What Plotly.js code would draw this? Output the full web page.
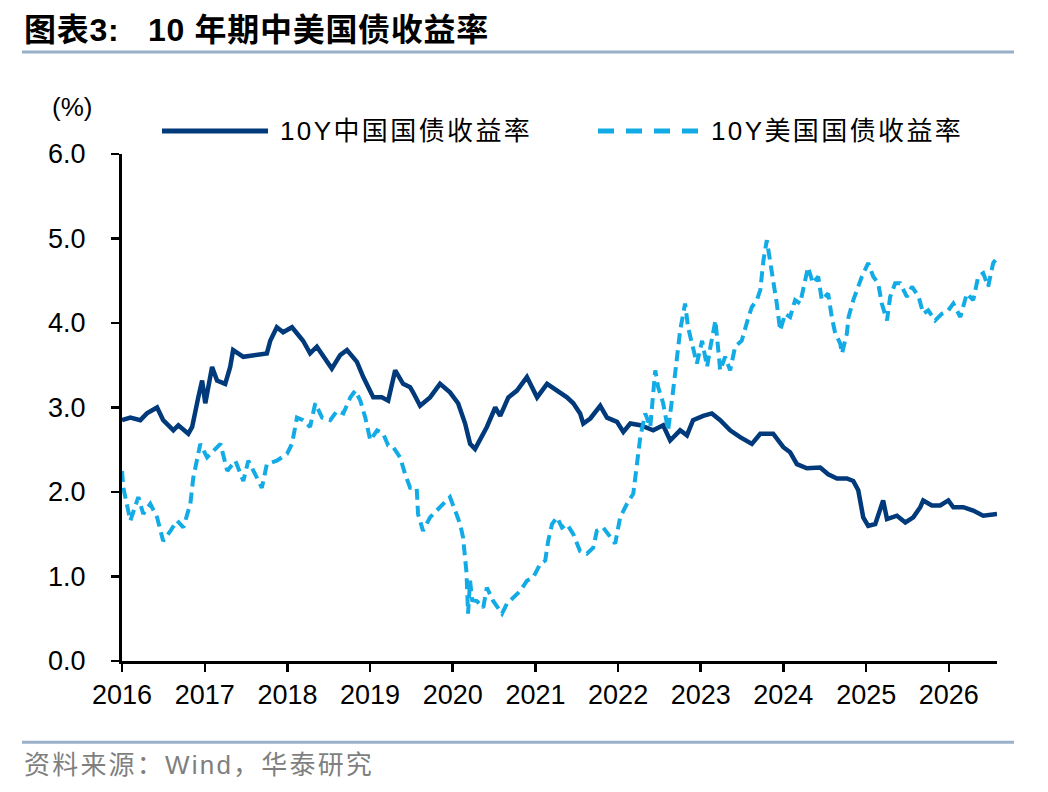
<!DOCTYPE html>
<html>
<head>
<meta charset="utf-8">
<script src="https://cdn.plot.ly/plotly-3.0.1.min.js"></script>
<style>
  html, body { margin: 0; padding: 0; background: #fff; }
  #chart { width: 1048px; height: 792px; }
</style>
</head>
<body>
<div id="chart"></div>
<script>
// 10Y China government bond yield (%)
var cnDates = [
  '2016-01-01','2016-02-07','2016-03-22','2016-04-20','2016-06-04','2016-07-01','2016-08-15','2016-09-06','2016-10-20','2016-11-06','2016-12-03','2016-12-20',
  '2017-01-03','2017-02-02','2017-02-24','2017-04-01','2017-04-23','2017-05-06','2017-06-20','2017-08-03','2017-10-02','2017-10-17','2017-11-15','2017-12-13',
  '2018-01-21','2018-03-11','2018-04-11','2018-05-11','2018-06-08','2018-07-16','2018-08-22','2018-09-21','2018-11-04','2018-12-02',
  '2019-01-15','2019-02-22','2019-03-22','2019-04-22','2019-05-27','2019-06-27','2019-07-10','2019-08-10','2019-09-23','2019-11-06','2019-12-20',
  '2020-01-25','2020-02-25','2020-03-18','2020-04-09','2020-05-01','2020-05-31','2020-07-07','2020-07-29','2020-09-03','2020-10-11','2020-11-24',
  '2021-01-08','2021-02-21','2021-04-06','2021-05-20','2021-06-17','2021-07-17','2021-07-31','2021-08-31','2021-10-14','2021-11-13','2021-12-27',
  '2022-01-24','2022-02-24','2022-04-09','2022-06-05','2022-07-19','2022-08-19','2022-10-02','2022-11-01','2022-11-28',
  '2023-01-12','2023-02-19','2023-03-28','2023-05-11','2023-06-24','2023-08-15','2023-09-21','2023-11-17',
  '2024-01-01','2024-01-31','2024-03-01','2024-04-14','2024-06-12','2024-07-17','2024-08-25','2024-10-08','2024-11-05','2024-11-27','2024-12-19',
  '2025-01-10','2025-02-10','2025-03-04','2025-03-17','2025-04-03','2025-05-17','2025-06-23','2025-07-28','2025-08-28','2025-09-10','2025-10-18','2025-11-24','2025-12-30',
  '2026-01-21','2026-03-06','2026-04-19','2026-06-02','2026-08-02'
];
var cnYield = [
  2.85,2.88,2.85,2.93,3.00,2.85,2.73,2.79,2.69,2.77,3.12,3.32,
  3.05,3.48,3.32,3.28,3.48,3.68,3.60,3.62,3.64,3.79,3.95,3.89,
  3.95,3.79,3.64,3.72,3.60,3.46,3.62,3.68,3.54,3.36,
  3.12,3.12,3.08,3.44,3.28,3.24,3.18,3.02,3.12,3.28,3.18,
  3.05,2.81,2.57,2.51,2.61,2.77,3.00,2.90,3.12,3.20,3.36,
  3.12,3.28,3.20,3.12,3.05,2.93,2.81,2.87,3.02,2.88,2.83,
  2.71,2.81,2.79,2.73,2.79,2.61,2.73,2.67,2.85,
  2.90,2.93,2.85,2.73,2.65,2.57,2.69,2.69,
  2.53,2.47,2.33,2.28,2.29,2.21,2.16,2.16,2.13,2.02,1.70,
  1.60,1.62,1.78,1.90,1.68,1.72,1.64,1.70,1.82,1.90,1.84,1.84,1.90,
  1.82,1.82,1.78,1.72,1.74
];

// 10Y US Treasury yield (%)
var usDates = [
  '2016-01-01','2016-01-07','2016-02-07','2016-03-13','2016-04-04','2016-05-05','2016-06-04','2016-07-01','2016-08-02','2016-08-31','2016-09-28','2016-10-29','2016-11-11','2016-11-27','2016-12-12',
  '2017-01-11','2017-02-08','2017-03-11','2017-04-10','2017-05-16','2017-06-20','2017-07-12','2017-08-19','2017-09-10','2017-10-02','2017-11-15','2017-12-30',
  '2018-01-21','2018-02-12','2018-03-11','2018-04-11','2018-05-04','2018-06-03','2018-07-09','2018-08-08','2018-09-05','2018-10-06','2018-10-28','2018-11-19','2018-12-11',
  '2019-01-02','2019-02-01','2019-02-28','2019-03-22','2019-04-13','2019-05-14','2019-06-05','2019-06-27','2019-07-26','2019-08-01','2019-08-23','2019-09-23','2019-10-22','2019-11-19','2019-12-20',
  '2020-01-12','2020-02-03','2020-02-16','2020-03-02','2020-03-09','2020-03-18','2020-03-27','2020-04-17','2020-05-15','2020-05-31','2020-06-28','2020-08-06','2020-08-28','2020-09-25','2020-10-26','2020-11-24','2020-12-22',
  '2021-01-22','2021-02-13','2021-02-26','2021-03-15','2021-04-06','2021-04-28','2021-05-20','2021-06-17','2021-07-17','2021-08-16','2021-09-13','2021-09-29','2021-10-27','2021-11-27','2021-12-19',
  '2022-01-10','2022-02-09','2022-03-09','2022-03-25','2022-04-09','2022-05-01','2022-05-23','2022-06-14','2022-06-27','2022-07-19','2022-08-10','2022-09-01','2022-09-18','2022-10-02','2022-10-24','2022-11-06','2022-11-23','2022-12-15',
  '2023-01-07','2023-01-29','2023-02-13','2023-03-07','2023-03-28','2023-04-19','2023-05-11','2023-06-02','2023-07-01','2023-07-16','2023-07-31','2023-08-15','2023-09-06','2023-09-21','2023-10-05','2023-10-20','2023-11-04','2023-11-17','2023-12-03','2023-12-18',
  '2024-01-09','2024-01-31','2024-02-22','2024-03-15','2024-04-06','2024-04-19','2024-05-11','2024-06-03','2024-06-19','2024-07-17','2024-08-02','2024-08-17','2024-09-08','2024-09-16','2024-10-08','2024-10-15','2024-11-05','2024-11-27','2024-12-13',
  '2025-01-10','2025-02-01','2025-02-23','2025-03-11','2025-04-03','2025-04-17','2025-05-09','2025-05-31','2025-06-30','2025-07-22','2025-08-21','2025-09-10','2025-10-02','2025-11-02','2025-12-02','2025-12-30',
  '2026-01-21','2026-02-21','2026-03-22','2026-04-19','2026-05-11','2026-06-02','2026-06-24','2026-07-16','2026-08-02'
];
var usYield = [
  2.25,2.05,1.66,1.94,1.74,1.86,1.70,1.42,1.54,1.66,1.58,1.86,2.17,2.37,2.57,
  2.41,2.49,2.57,2.25,2.37,2.13,2.37,2.17,2.05,2.33,2.37,2.45,
  2.57,2.88,2.85,2.77,3.05,2.88,2.85,2.96,2.93,3.12,3.20,3.08,2.88,
  2.61,2.73,2.69,2.55,2.53,2.41,2.21,2.05,2.05,1.74,1.54,1.70,1.78,1.86,1.94,
  1.78,1.62,1.46,1.05,0.56,0.95,0.72,0.71,0.63,0.87,0.71,0.56,0.68,0.75,0.83,0.95,0.99,
  1.15,1.19,1.42,1.62,1.70,1.58,1.62,1.50,1.30,1.27,1.34,1.54,1.58,1.46,1.39,
  1.70,1.86,1.98,2.33,2.65,2.93,2.77,3.44,3.24,3.05,2.73,3.20,3.60,3.91,4.23,3.95,3.76,3.52,
  3.79,3.48,3.72,4.03,3.44,3.60,3.44,3.72,3.79,3.95,4.07,4.19,4.27,4.39,4.74,4.98,4.71,4.55,4.23,3.91,
  4.11,4.07,4.27,4.23,4.47,4.66,4.47,4.55,4.27,4.35,4.07,3.88,3.76,3.64,3.88,4.07,4.27,4.43,4.55,
  4.71,4.55,4.47,4.23,4.03,4.31,4.47,4.47,4.31,4.43,4.31,4.11,4.15,4.03,4.11,4.15,
  4.23,4.07,4.35,4.27,4.55,4.59,4.43,4.71,4.77
];

var seriesNames = ['10Y中国国债收益率', '10Y美国国债收益率'];
var cnColor = '#003A7A';
var usColor = '#12ABE6';
var fontFam = 'Liberation Sans, Arial, Noto Sans CJK SC, sans-serif';

function spaced(txt, px) {
  return '<span style="letter-spacing:' + px + 'px">' + txt + '</span>';
}

var traces = [
  {
    x: cnDates, y: cnYield, name: seriesNames[0],
    type: 'scatter', mode: 'lines',
    line: { color: cnColor, width: 4.5 }
  },
  {
    x: usDates, y: usYield, name: seriesNames[1],
    type: 'scatter', mode: 'lines',
    line: { color: usColor, width: 4, dash: '11px,6px' }
  }
];

// plot area spans 122..997 px horizontally, 154..661 px vertically
var layout = {
  width: 1048,
  height: 792,
  margin: { l: 122, r: 51, t: 154, b: 131 },
  paper_bgcolor: '#fff',
  plot_bgcolor: '#fff',
  showlegend: false,
  font: { family: fontFam, size: 27, color: '#000' },
  xaxis: {
    type: 'date',
    range: ['2016-01-01', '2026-08-02'],
    tick0: '2016-01-01',
    dtick: 'M12',
    tickformat: '%Y',
    showgrid: false,
    zeroline: false,
    showline: true, linecolor: '#000', linewidth: 3,
    ticks: 'outside', ticklen: 8, tickwidth: 2.5, tickcolor: '#000',
    tickfont: { family: fontFam, size: 27, color: '#000' }
  },
  yaxis: {
    range: [0, 6],
    dtick: 1,
    tickformat: '.1f',
    showgrid: false,
    zeroline: false,
    showline: true, linecolor: '#000', linewidth: 3,
    ticks: 'outside', ticklen: 8, tickwidth: 2.5, tickcolor: '#000',
    ticklabelstandoff: 20,
    tickfont: { family: fontFam, size: 27, color: '#000' }
  },
  shapes: [
    // rule under the title
    { type: 'line', xref: 'paper', yref: 'paper', x0: -0.1143, x1: 1.0194, y0: 1.2013, y1: 1.2013,
      line: { color: '#9AB0C9', width: 3 } },
    // rule above the source line
    { type: 'line', xref: 'paper', yref: 'paper', x0: -0.1143, x1: 1.0194, y0: -0.1605, y1: -0.1605,
      line: { color: '#9AB0C9', width: 3 } },
    // legend samples
    { type: 'line', xref: 'paper', yref: 'paper', x0: 0.0457, x1: 0.1669, y0: 1.0454, y1: 1.0454,
      line: { color: cnColor, width: 5 } },
    { type: 'line', xref: 'paper', yref: 'paper', x0: 0.544, x1: 0.6606, y0: 1.0454, y1: 1.0454,
      line: { color: usColor, width: 5, dash: '16px,12px' } }
  ],
  annotations: [
    { xref: 'paper', yref: 'paper', x: -0.1143, y: 1.2447, xanchor: 'left', yanchor: 'middle', showarrow: false,
      text: '<b>' + spaced('图表3:\u00a0\u00a0 10 年期中美国债收益率', 0.7) + '</b>',
      font: { family: 'Liberation Sans, Noto Sans CJK SC, sans-serif', size: 32, color: '#000' } },
    { xref: 'paper', yref: 'paper', x: -0.057, y: 1.0926, xanchor: 'center', yanchor: 'middle', showarrow: false,
      text: '(%)', font: { family: fontFam, size: 26, color: '#000' } },
    { xref: 'paper', yref: 'paper', x: 0.1783, y: 1.0454, xanchor: 'left', yanchor: 'middle', showarrow: false,
      text: spaced(seriesNames[0], 2.4), font: { family: fontFam, size: 26, color: '#000' } },
    { xref: 'paper', yref: 'paper', x: 0.6709, y: 1.0454, xanchor: 'left', yanchor: 'middle', showarrow: false,
      text: spaced(seriesNames[1], 2.4), font: { family: fontFam, size: 26, color: '#000' } },
    { xref: 'paper', yref: 'paper', x: -0.1143, y: -0.2058, xanchor: 'left', yanchor: 'middle', showarrow: false,
      text: spaced('资料来源：Wind，华泰研究', 2.2), font: { family: fontFam, size: 26, color: '#7F7F7F' } }
  ]
};

Plotly.newPlot('chart', traces, layout, { staticPlot: true, displayModeBar: false });
</script>
</body>
</html>
